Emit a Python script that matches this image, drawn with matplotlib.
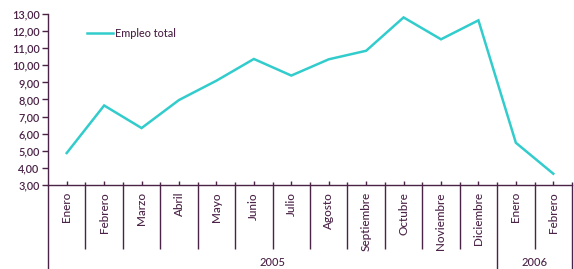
import matplotlib
matplotlib.use("Agg")
import matplotlib.pyplot as plt
import matplotlib.transforms as mtransforms

months = ["Enero", "Febrero", "Marzo", "Abril", "Mayo", "Junio", "Julio",
          "Agosto", "Septiembre", "Octubre", "Noviembre", "Diciembre",
          "Enero", "Febrero"]
years = ["2005", "2006"]
year_counts = [12, 2]
empleo_total = [4.87, 7.65, 6.33, 7.97, 9.10, 10.37, 9.40, 10.35, 10.85,
                12.80, 11.52, 12.63, 5.47, 3.66]
yticks = [3, 4, 5, 6, 7, 8, 9, 10, 11, 12, 13]

W, H = 574, 269
purple = "#4a2347"
teal = "#33CCCC"
plt.rcParams['font.family'] = ['Lato', 'DejaVu Sans']

fig = plt.figure(figsize=(W / 100, H / 100), dpi=100)
left, right, top, bottom = 48, 572, 14, 185
ax = fig.add_axes([left / W, 1 - bottom / H, (right - left) / W, (bottom - top) / H])

x = list(range(len(months)))
ax.plot(x, empleo_total, color=teal, lw=1.8, solid_joinstyle='miter', clip_on=False,
        label="Empleo total")
ax.set_xlim(-0.5, len(months) - 0.5)
ax.set_ylim(3, 13)
ax.set_yticks(yticks)
ax.set_yticklabels([f"{v:.2f}".replace(".", ",") for v in yticks],
                   fontsize=7.8, color=purple, fontweight='semibold')
ax.tick_params(axis='y', length=4, width=1, color=purple, pad=2)

for s in ["top", "right"]:
    ax.spines[s].set_visible(False)
for s in ["left", "bottom"]:
    ax.spines[s].set_color(purple)
    ax.spines[s].set_linewidth(1)

ax.set_xticks(x)
ax.set_xticklabels([])
ax.tick_params(axis='x', direction='in', length=3, width=1, color=purple)

axh = bottom - top
trans = mtransforms.blended_transform_factory(ax.transData, ax.transAxes)
month_div_y = -(249 - bottom) / axh
full_y = -(H - bottom + 2) / axh
tick_above = 3 / axh

# month labels
for i, m in enumerate(months):
    ax.text(i, -7 / axh, m, transform=trans, rotation=90, ha='center', va='top',
            fontsize=8.5, color=purple, fontweight='medium')

# dividers
year_bounds = []
pos = -0.5
for c in year_counts:
    pos += c
    year_bounds.append(pos)
for i in range(len(months) + 1):
    xb = i - 0.5
    if xb == -0.5:
        continue
    if xb in year_bounds:
        y0 = full_y
    else:
        y0 = month_div_y
    ax.plot([xb, xb], [tick_above, y0], transform=trans, color=purple, lw=1,
            clip_on=False, solid_capstyle='butt')

ax.spines['left'].set_bounds(3, 13)
ax.plot([-0.5, -0.5], [0, full_y], transform=trans, color=purple, lw=1,
        clip_on=False, solid_capstyle='butt')

# year labels
start = -0.5
for yr, c in zip(years, year_counts):
    ax.text(start + c / 2, -(262 - bottom) / axh, yr, transform=trans,
            ha='center', va='center', fontsize=8, color=purple, fontweight='medium')
    start += c

leg = ax.legend(loc='upper left', bbox_to_anchor=(0.066, 0.945), frameon=False,
                prop={'size': 7.8, 'weight': 'medium'}, handlelength=2.4,
                handletextpad=0.2, borderaxespad=0)
for t in leg.get_texts():
    t.set_color(purple)

fig.savefig("out.png", dpi=100)
